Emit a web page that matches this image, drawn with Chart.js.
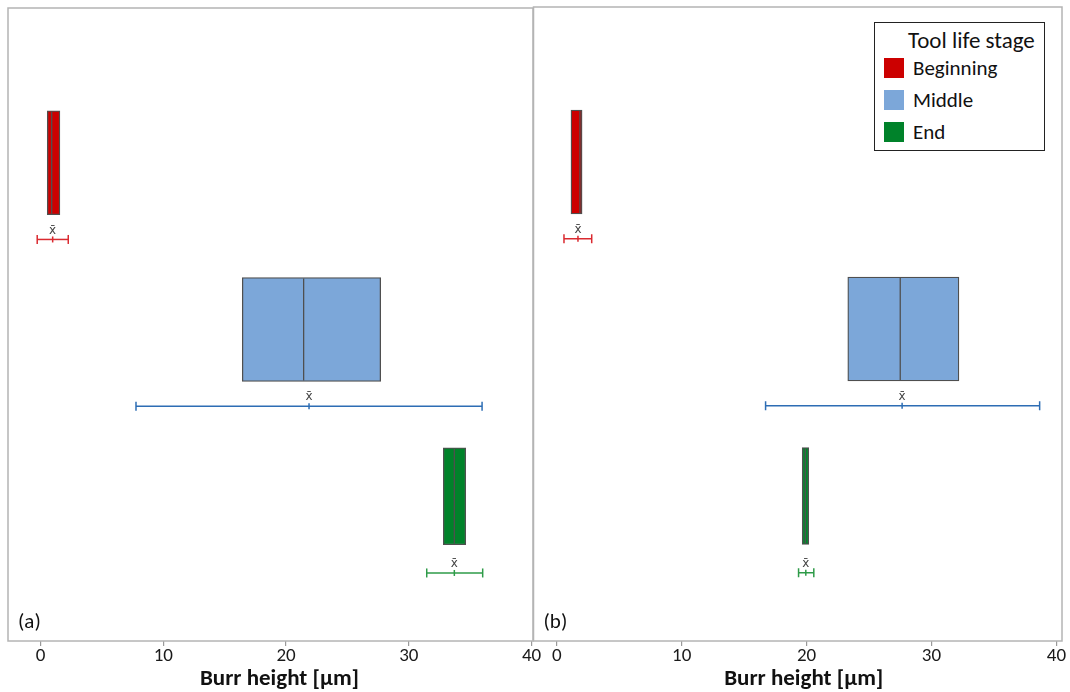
<!DOCTYPE html>
<html>
<head>
<meta charset="utf-8">
<script src="https://cdn.jsdelivr.net/npm/chart.js@4.4.1/dist/chart.umd.min.js"></script>
<style>
  html, body { margin: 0; padding: 0; background: #fff; overflow: hidden; width: 1070px; height: 692px; }
  .panel { position: absolute; top: 0; }
  #panelA { left: 0; }
  #panelB { left: 525px; }
  canvas { display: block; }
  #legend {
    position: absolute; left: 874px; top: 22px; width: 169px; height: 127px;
    border: 1.5px solid #222; background: #fff;
    font-family: Carlito, Lato, "Open Sans", sans-serif; color: #111;
  }
  #legend .ttl { position: absolute; left: 33px; top: 3px; font-size: 23px; white-space: nowrap; }
  #legend .item { position: absolute; left: 9px; height: 20px; display: flex; align-items: center; white-space: nowrap; font-size: 21px; }
  #legend .sw { width: 20px; height: 20px; margin-right: 9px; }
</style>
</head>
<body>
<div class="panel" id="panelA"><canvas id="chartA" width="545" height="692"></canvas></div>
<div class="panel" id="panelB"><canvas id="chartB" width="550" height="692"></canvas></div>
<div id="legend"></div>

<script>
// Burr height by tool life stage: interquartile boxes with median line,
// plus the overall range with the mean marked (x̄).
const stages = ['Beginning', 'Middle', 'End'];
const tickValues = [0, 10, 20, 30, 40];
const axisTitle = 'Burr height [µm]';
const legendTitle = 'Tool life stage';

// Panel (a)
const aQ1     = [0.54, 16.43, 32.81];
const aQ3     = [1.57, 27.71, 34.64];
const aMedian = [0.90, 21.43, 33.71];
const aLow    = [-0.28, 7.77, 31.46];
const aMean   = [0.98, 21.87, 33.71];
const aHigh   = [2.25, 35.97, 36.02];

// Panel (b)
const bQ1     = [1.14, 23.30, 19.65];
const bQ3     = [2.03, 32.20, 20.18];
const bMedian = [1.86, 27.50, 19.90];
const bLow    = [0.58, 16.72, 19.36];
const bMean   = [1.70, 27.65, 19.94];
const bHigh   = [2.80, 38.66, 20.58];

// styling
const FONT = 'Carlito, Lato, "Open Sans", sans-serif';
const boxFill = ['#CC0000', '#7CA7D9', '#00822A'];
const rangeColor = ['#DA2A30', '#2D6DB4', '#2E9B48'];
const boxEdge = '#4f4f4f';
const boxHeight = [104, 104, 97];
const rangeOffset = 0.46;   // range line sits just below its box (in row units)

// panel frame, panel tag and the axis title (drawn slightly right of centre)
const framePlugin = {
  id: 'frame',
  afterDraw(chart, args, opts) {
    const { ctx, chartArea: a } = chart;
    ctx.save();
    ctx.strokeStyle = '#b4b4b4';
    ctx.lineWidth = 1.5;
    ctx.strokeRect(a.left, a.top, a.right - a.left, a.bottom - a.top);
    ctx.fillStyle = '#111';
    ctx.font = '21px ' + FONT;
    ctx.textAlign = 'left';
    ctx.textBaseline = 'alphabetic';
    ctx.fillText(opts.tag, a.left + 10, a.bottom - 13);
    ctx.font = 'bold 23px ' + FONT;
    ctx.textAlign = 'center';
    ctx.textBaseline = 'middle';
    ctx.fillText(axisTitle, (a.left + a.right) / 2 + opts.titleShift, 679);
    ctx.restore();
  }
};

const meanLabelPlugin = {
  id: 'meanLabel',
  afterDatasetsDraw(chart) {
    const { ctx } = chart;
    ctx.save();
    ctx.fillStyle = '#444';
    ctx.font = '12px "DejaVu Sans", sans-serif';
    ctx.textAlign = 'center';
    ctx.textBaseline = 'middle';
    chart.data.datasets.forEach((ds, i) => {
      if (ds.role !== 'range') return;
      const pt = chart.getDatasetMeta(i).data[1];
      if (pt) ctx.fillText('x\u0304', pt.x, pt.y - 9);
    });
    ctx.restore();
  }
};

function buildDatasets(q1, q3, med, lo, mean, hi) {
  const sets = [];
  stages.forEach((s, i) => {
    sets.push({
      type: 'bar', role: 'box', label: s, indexAxis: 'y', grouped: false,
      data: [{ y: i, x: [q1[i], q3[i]] }],
      backgroundColor: boxFill[i], borderColor: boxEdge, borderWidth: 1.3,
      borderSkipped: false, barThickness: boxHeight[i], order: 3
    });
    sets.push({
      type: 'scatter', role: 'median', label: s + ' median', indexAxis: 'x',
      data: [{ x: med[i], y: i }],
      pointStyle: 'line', rotation: 90, pointRadius: boxHeight[i] / 2 - 1,
      pointHoverRadius: boxHeight[i] / 2 - 1,
      borderColor: boxEdge, pointBorderColor: boxEdge, pointBorderWidth: 1.3, order: 2
    });
    sets.push({
      type: 'line', role: 'range', label: s + ' range', indexAxis: 'x',
      data: [{ x: lo[i], y: i + rangeOffset }, { x: mean[i], y: i + rangeOffset }, { x: hi[i], y: i + rangeOffset }],
      borderColor: rangeColor[i], borderWidth: 1.5, fill: false, tension: 0,
      pointStyle: 'line', rotation: 90, pointRadius: [4.5, 3, 4.5], pointHoverRadius: [4.5, 3, 4.5],
      pointBorderColor: rangeColor[i], pointBorderWidth: 1.5, order: 1
    });
  });
  return sets;
}

function makePanel(id, sets, xMin, xMax, pad, tag, titleShift) {
  return new Chart(document.getElementById(id), {
    type: 'bar',
    data: { datasets: sets },
    options: {
      responsive: false, animation: false, indexAxis: 'y',
      layout: { padding: pad, autoPadding: false },
      plugins: { legend: { display: false }, tooltip: { enabled: false }, frame: { tag, titleShift } },
      scales: {
        x: {
          type: 'linear', min: xMin, max: xMax, position: 'bottom', offset: false,
          afterBuildTicks: (scale) => { scale.ticks = tickValues.map(v => ({ value: v })); },
          ticks: { font: { family: FONT, size: 19, lineHeight: 1.0 }, color: '#1a1a1a', padding: 1, includeBounds: false, maxRotation: 0 },
          grid: { drawOnChartArea: false, drawTicks: true, tickLength: 5, color: '#9a9a9a', lineWidth: 1.2 },
          border: { display: false },
          title: { display: false }
        },
        y: { type: 'linear', reverse: true, offset: false, min: -0.928, max: 2.868, display: false }
      }
    },
    plugins: [framePlugin, meanLabelPlugin]
  });
}

makePanel('chartA', buildDatasets(aQ1, aQ3, aMedian, aLow, aMean, aHigh), -2.66, 40.12,
  { left: 8, right: 12, top: 8, bottom: 25 }, '(a)', 9);
makePanel('chartB', buildDatasets(bQ1, bQ3, bMedian, bLow, bMean, bHigh), -1.86, 40.45,
  { left: 8.5, right: 13, top: 7, bottom: 25 }, '(b)', 6);

// legend
const legend = document.getElementById('legend');
const ttl = document.createElement('div');
ttl.className = 'ttl';
ttl.textContent = legendTitle;
legend.appendChild(ttl);
const itemTops = [35, 67, 99];
stages.forEach((s, i) => {
  const it = document.createElement('div');
  it.className = 'item';
  it.style.top = itemTops[i] + 'px';
  const sw = document.createElement('span');
  sw.className = 'sw';
  sw.style.background = boxFill[i];
  const tx = document.createElement('span');
  tx.textContent = s;
  it.appendChild(sw);
  it.appendChild(tx);
  legend.appendChild(it);
});
</script>
</body>
</html>
